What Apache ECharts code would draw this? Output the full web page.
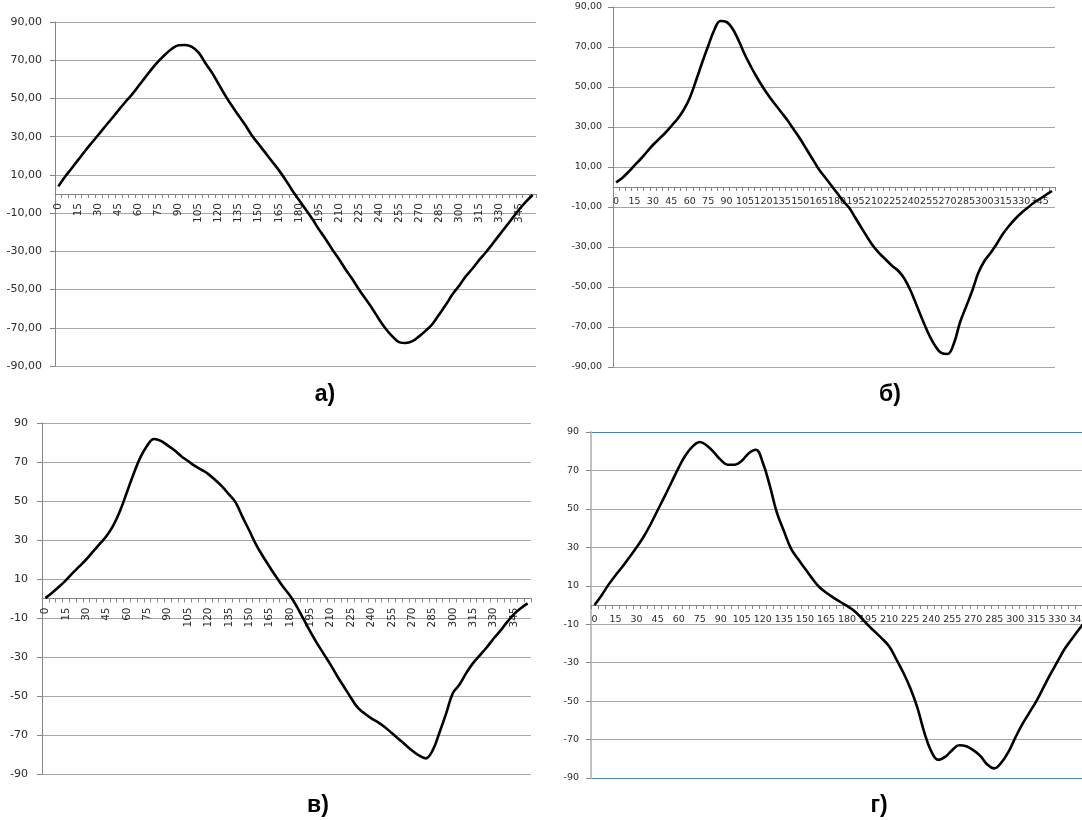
<!DOCTYPE html>
<html>
<head>
<meta charset="utf-8">
<script src="https://cdn.jsdelivr.net/npm/echarts@6/dist/echarts.min.js"></script>
<style>
  html, body { margin: 0; padding: 0; background: #fff; }
  #chart { width: 1082px; height: 820px; }
</style>
</head>
<body>
<div id="chart"></div>
<script>
// ---- categories (angle, degrees) ----
const degrees = ['0','5','10','15','20','25','30','35','40','45','50','55',
  '60','65','70','75','80','85','90','95','100','105','110','115',
  '120','125','130','135','140','145','150','155','160','165','170','175',
  '180','185','190','195','200','205','210','215','220','225','230','235',
  '240','245','250','255','260','265','270','275','280','285','290','295',
  '300','305','310','315','320','325','330','335','340','345','350','355'];

// ---- y tick labels ----
const yTicks = [-90, -70, -50, -30, -10, 10, 30, 50, 70, 90];

// ---- panel titles ----
const panelTitles = ['а)', 'б)', 'в)', 'г)'];

// ---- series values ----
const seriesA = [4, 9, 13.5, 18, 22.5, 26.8, 31, 35.3, 39.5, 43.8, 48, 52,
  56.5, 61, 65.5, 69.5, 73, 76, 77.8, 78, 77, 74, 68.5, 63.5,
  57.5, 51.5, 46, 41, 36, 30.5, 26, 21.5, 17, 12.5, 7.5, 2,
  -3, -8, -13, -18.5, -23.5, -29, -34, -39.5, -44.5, -50, -55, -60,
  -65.5, -70.5, -74.5, -77.5, -78, -77, -74.5, -71.5, -68, -63, -58, -52.5,
  -48, -43, -39, -34.5, -30.5, -26, -21.5, -17, -12.5, -8, -4, -0.5];

const seriesB = [2.3, 4.5, 7.5, 10.8, 14, 17.5, 21, 24, 27, 30.5, 34, 38.5,
  44.5, 53, 62, 70.5, 78.5, 83, 82.5, 79, 73, 66, 60, 54.5,
  49.5, 45, 41, 37, 33, 28.5, 24, 19, 14, 9, 5, 1,
  -3, -7, -10.5, -15.5, -20.5, -25.5, -30, -33.5, -36.5, -39.5, -42, -46,
  -52, -59.5, -67, -74, -79.5, -83, -83.5, -78.5, -68, -60, -52, -43,
  -37, -33, -28.5, -23.5, -19.5, -16, -13, -10.5, -8, -6, -4, -2];

const seriesC = [0.2, 3, 6, 9.3, 13, 16.5, 20, 24, 28, 32, 37.5, 45,
  54.5, 64, 72.5, 78.5, 81.8, 80.8, 78.5, 76, 73, 70.5, 68, 66,
  63.8, 60.8, 57.5, 53.5, 49.3, 42, 35, 27.8, 21.8, 16.3, 11, 6,
  1.5, -4, -10.5, -17, -23, -28.5, -34, -40, -45.5, -51, -56, -59,
  -61.5, -63.5, -66, -69, -72, -75, -78, -80.5, -82, -78, -69, -59,
  -48.5, -44, -38, -33, -29, -25, -20.5, -16.5, -12, -8, -5, -2.5];

const seriesD = [0, 5, 10.6, 15.5, 20, 25, 30, 35.5, 42, 49.3, 56.5, 64,
  71.5, 78, 82.5, 84.8, 83, 79.5, 75.5, 73, 73, 75, 79, 80.8,
  74, 62, 48, 38.5, 29.5, 24, 19, 14, 9.5, 6.5, 4, 1.7,
  -0.5, -3, -6.5, -10.5, -14, -17.5, -21.5, -28, -35, -43, -53, -66,
  -76, -80.5, -79, -75.5, -73, -73.5, -75.5, -78.5, -83, -85, -82, -76.5,
  -69, -62, -56, -50, -43, -36, -29.5, -23, -18, -13, -8.5, -4];

const allSeries = [seriesA, seriesB, seriesC, seriesD];

// ---- layout / style per panel ----
const panels = [
  { grid: {left: 55,  top: 22,  width: 481, height: 344}, decimals: true,  yFont: 11,  yMargin: 13, xFont: 10.5, xRotate: 90, xMargin: 9,  title: [325, 395] },
  { grid: {left: 613, top: 7,   width: 442, height: 360}, decimals: true,  yFont: 9.5, yMargin: 11, xFont: 9.5,  xRotate: 0,  xMargin: 10, title: [890, 395] },
  { grid: {left: 42,  top: 423, width: 489, height: 351}, decimals: false, yFont: 11,  yMargin: 14, xFont: 10.5, xRotate: 90, xMargin: 9,  title: [318, 806] },
  { grid: {left: 591, top: 432, width: 505, height: 346}, decimals: false, yFont: 9.5, yMargin: 12, xFont: 9.5,  xRotate: 0,  xMargin: 10, title: [879, 806] }
];

const gridGray = '#a6a6a6';
const axisGray = '#868686';
const blue = '#4a7ebb';
const labelFont = 'DejaVu Sans';
const textColor = '#2b2b2b';

const grids = [], xAxes = [], yAxes = [], series = [], graphics = [];

panels.forEach((p, k) => {
  grids.push(Object.assign({containLabel: false, outerBoundsMode: 'none'}, p.grid));
  xAxes.push({
    type: 'category', gridIndex: k, data: degrees, boundaryGap: true,
    position: 'bottom',
    // value axis spans -90..90, so the zero line sits at mid-height of the grid
    offset: -p.grid.height / 2,
    axisLine: {show: true, onZero: false, lineStyle: {color: axisGray, width: 1}},
    axisTick: {show: true, interval: 0, length: 4, lineStyle: {color: axisGray}},
    axisLabel: {interval: 2, rotate: p.xRotate, fontFamily: labelFont, fontSize: p.xFont,
                color: textColor, margin: p.xMargin, hideOverlap: false},
    splitLine: {show: false}
  });
  const splitColor = (k === 3)
    ? yTicks.map((v, i) => (i === 0 || i === yTicks.length - 1) ? blue : gridGray)
    : gridGray;
  yAxes.push({
    type: 'value', gridIndex: k, min: -90, max: 90,
    axisLine: {show: true, lineStyle: {color: k === 3 ? '#c0c0c0' : axisGray, width: k === 3 ? 2 : 1}},
    axisTick: {show: true, length: 5, customValues: yTicks, lineStyle: {color: axisGray}},
    axisLabel: {
      customValues: yTicks, fontFamily: labelFont, fontSize: p.yFont, color: textColor, margin: p.yMargin,
      formatter: p.decimals ? (v => v.toFixed(2).replace('.', ',')) : (v => String(v))
    },
    splitLine: {show: true, lineStyle: {color: splitColor, width: 1}}
  });
  series.push({
    type: 'line', xAxisIndex: k, yAxisIndex: k, data: allSeries[k],
    smooth: 0.4, showSymbol: false, symbol: 'none',
    lineStyle: {color: '#000', width: 2.6}
  });
  graphics.push({
    type: 'text', x: p.title[0], y: p.title[1],
    style: {text: panelTitles[k], font: 'bold 23px "Liberation Sans", Arial, sans-serif',
            fill: '#000', align: 'center', verticalAlign: 'middle'}
  });
});

const chart = echarts.init(document.getElementById('chart'), null, {renderer: 'canvas'});
chart.setOption({
  animation: false,
  backgroundColor: '#fff',
  grid: grids,
  xAxis: xAxes,
  yAxis: yAxes,
  series: series,
  graphic: graphics
});
</script>
</body>
</html>
